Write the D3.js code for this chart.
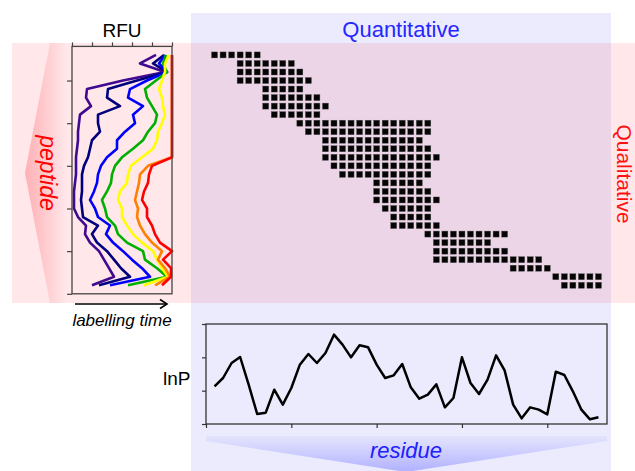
<!DOCTYPE html>
<html>
<head>
<meta charset="utf-8">
<script src="https://cdn.jsdelivr.net/npm/d3@7"></script>
<style>
  body { margin: 0; background: #fff; }
  text { font-family: "Liberation Sans", Arial, sans-serif; }
</style>
</head>
<body>
<script>
// ---- data ----
// lnP per residue (residue 1..46)
var lnP = [1.13, 1.38, 1.83, 2.01, 1.18, 0.30, 0.34, 1.03, 0.58, 1.08,
           1.78, 2.10, 1.83, 2.13, 2.68, 2.38, 2.00, 2.36, 2.30, 1.78,
           1.38, 1.46, 1.80, 1.10, 0.76, 0.88, 1.19, 0.50, 0.78, 2.00,
           1.23, 0.90, 1.33, 2.06, 1.61, 0.58, 0.17, 0.50, 0.43, 0.29,
           1.57, 1.47, 0.98, 0.43, 0.14, 0.20];

// peptides (top to bottom): first and last residue covered
var pepStart = [1, 4, 4, 4, 7, 7, 7, 8, 11, 12, 14, 14, 14, 15, 16, 20, 20, 20, 21, 22, 22, 26, 27, 27, 27, 36, 41, 42];
var pepEnd   = [6, 10, 11, 12, 11, 13, 14, 13, 26, 26, 25, 26, 27, 26, 26, 25, 26, 27, 26, 26, 27, 35, 33, 35, 39, 40, 46, 46];

// RFU per peptide at each labelling time (earliest -> latest)
var rfuT1 = [0.84, 0.68, 0.93, 0.51, 0.15, 0.14, 0.19, 0.08, 0.07, 0.06, 0.06, 0.05, 0.04, 0.04,
             0.04, 0.03, 0.02, 0.02, 0.02, 0.06, 0.14, 0.13, 0.18, 0.27, 0.32, 0.37, 0.42, 0.20];
var rfuT2 = [0.92, 0.81, 0.95, 0.65, 0.36, 0.35, 0.48, 0.26, 0.26, 0.28, 0.20, 0.18, 0.16, 0.12,
             0.10, 0.10, 0.10, 0.09, 0.10, 0.11, 0.26, 0.20, 0.25, 0.35, 0.42, 0.49, 0.58, 0.27];
var rfuT3 = [0.93, 0.87, 0.95, 0.75, 0.58, 0.56, 0.71, 0.61, 0.63, 0.53, 0.45, 0.45, 0.35, 0.29,
             0.26, 0.25, 0.22, 0.18, 0.23, 0.26, 0.38, 0.34, 0.41, 0.51, 0.60, 0.70, 0.78, 0.38];
var rfuT4 = [0.94, 0.91, 0.95, 0.84, 0.73, 0.75, 0.80, 0.85, 0.83, 0.76, 0.71, 0.61, 0.50, 0.43,
             0.40, 0.39, 0.35, 0.30, 0.33, 0.35, 0.43, 0.46, 0.55, 0.71, 0.73, 0.85, 0.95, 0.56];
var rfuT5 = [0.97, 0.93, 0.93, 0.90, 0.87, 0.90, 0.91, 0.93, 0.90, 0.86, 0.85, 0.81, 0.70, 0.59,
             0.56, 0.55, 0.48, 0.46, 0.50, 0.50, 0.55, 0.61, 0.70, 0.81, 0.85, 0.90, 0.96, 0.72];
var rfuT6 = [1, 1, 1, 1, 1, 1, 1, 1, 1, 1, 1, 1, 1, 0.76,
             0.68, 0.67, 0.65, 0.63, 0.66, 0.65, 0.68, 0.73, 0.80, 0.90, 0.86, 0.93, 0.98, 0.83];
var rfuT7 = [1, 1, 1, 1, 1, 1, 1, 1, 1, 1, 1, 1, 1, 0.80,
             0.77, 0.76, 0.72, 0.70, 0.75, 0.75, 0.80, 0.83, 0.88, 1.00, 0.91, 0.99, 0.99, 0.90];
var timeColors = ["#3f0a8f", "#00007f", "#0000ff", "#00b000", "#ffff00", "#ff8000", "#ff0000"];

var rfuTicks = [0, 0.2, 0.4, 0.6, 0.8, 1];
var pepTicks = [3, 8, 13, 18, 23, 28];
var lnPTicks = [0, 1, 2, 3];
var resTicks = [0, 10, 20, 30, 40];

var W = 635, H = 471;

var svg = d3.select("body").append("svg")
    .attr("width", W)
    .attr("height", H);

var defs = svg.append("defs");

// gradients for the two arrows
var gPep = defs.append("linearGradient").attr("id", "gPep")
    .attr("x1", "0%").attr("x2", "100%").attr("y1", "0%").attr("y2", "0%");
gPep.append("stop").attr("offset", "0%").attr("stop-color", "#ffb0b4");
gPep.append("stop").attr("offset", "100%").attr("stop-color", "#ffb0b4").attr("stop-opacity", 0);

var gRes = defs.append("linearGradient").attr("id", "gRes")
    .attr("x1", "0%").attr("x2", "0%").attr("y1", "0%").attr("y2", "100%");
gRes.append("stop").attr("offset", "0%").attr("stop-color", "#b8b8ff").attr("stop-opacity", 0.15);
gRes.append("stop").attr("offset", "100%").attr("stop-color", "#b0b0ff");

// ---- scales ----
var xRes = d3.scaleLinear().domain([0, 47]).range([206, 607]);
var yPep = d3.scaleLinear().domain([-1, 28]).range([46.4, 293.8]);
var xRfu = d3.scaleLinear().domain([0, 1]).range([72, 172]);
var yLnP = d3.scaleLinear().domain([0, 3]).range([424, 324]);

// ---- background bands ----
svg.append("rect")
    .attr("x", 191).attr("y", 13).attr("width", 420).attr("height", H - 13)
    .attr("fill", "#ebebfd");

svg.append("rect")
    .attr("x", 12).attr("y", 43).attr("width", W - 12).attr("height", 260)
    .attr("fill", "rgb(255,60,80)").attr("fill-opacity", 0.12);

// peptide arrow (points left)
svg.append("path")
    .attr("d", "M25,173 L50,43 L66,43 L66,303 L50,303 Z")
    .attr("fill", "url(#gPep)");

// residue arrow (points down)
svg.append("path")
    .attr("d", "M206,436 L607,436 L607,441 L406,472 L206,441 Z")
    .attr("fill", "url(#gRes)");

// ---- titles ----
svg.append("text")
    .attr("x", 401).attr("y", 37)
    .attr("text-anchor", "middle")
    .attr("font-size", 22)
    .attr("fill", "#2626ff")
    .text("Quantitative");

svg.append("text")
    .attr("transform", "translate(617,174) rotate(90)")
    .attr("text-anchor", "middle")
    .attr("font-size", 21)
    .attr("fill", "#ff1010")
    .text("Qualitative");

svg.append("text")
    .attr("transform", "translate(40,173) rotate(90)")
    .attr("text-anchor", "middle")
    .attr("font-size", 23)
    .attr("font-style", "italic")
    .attr("fill", "#ff0000")
    .text("peptide");

svg.append("text")
    .attr("x", 406).attr("y", 458)
    .attr("text-anchor", "middle")
    .attr("font-size", 22)
    .attr("font-style", "italic")
    .attr("fill", "#2020ff")
    .text("residue");

// ---- coverage grid ----
var cells = [];
pepStart.forEach(function(s, i) {
  d3.range(s, pepEnd[i] + 1).forEach(function(r) {
    cells.push({pep: i, res: r});
  });
});

svg.append("g").selectAll("rect")
    .data(cells)
  .enter().append("rect")
    .attr("x", function(d) { return xRes(d.res) - 3; })
    .attr("y", function(d) { return yPep(d.pep) - 3; })
    .attr("width", 6)
    .attr("height", 6)
    .attr("fill", "#050505")
    .attr("stroke", "#555")
    .attr("stroke-width", 0.4);

// ---- RFU panel ----
var rfu = svg.append("g");

rfu.append("g")
    .attr("transform", "translate(0," + yPep(-1) + ")")
    .call(d3.axisTop(xRfu).tickValues(rfuTicks).tickSize(4).tickFormat(""))
    .call(function(g) { g.select(".domain").remove(); });

rfu.append("g")
    .attr("transform", "translate(" + xRfu(0) + ",0)")
    .call(d3.axisLeft(yPep).tickValues(pepTicks).tickSize(5).tickFormat(""))
    .call(function(g) { g.select(".domain").remove(); });

rfu.selectAll(".tick line").attr("stroke", "#444").attr("stroke-width", 1.2);

var rfuSeries = [rfuT1, rfuT2, rfuT3, rfuT4, rfuT5, rfuT6, rfuT7];
var rfuLine = d3.line()
    .x(function(d) { return xRfu(d); })
    .y(function(d, i) { return yPep(i); });

rfu.selectAll("path.rfu")
    .data(rfuSeries)
  .enter().append("path")
    .attr("class", "rfu")
    .attr("d", rfuLine)
    .attr("fill", "none")
    .attr("stroke", function(d, i) { return timeColors[i]; })
    .attr("stroke-width", 2.6)
    .attr("stroke-linejoin", "round");

rfu.append("rect")
    .attr("x", xRfu(0)).attr("y", yPep(-1))
    .attr("width", xRfu(1) - xRfu(0)).attr("height", yPep(28) - yPep(-1))
    .attr("fill", "none").attr("stroke", "#444").attr("stroke-width", 1.3);

rfu.append("text")
    .attr("x", 122).attr("y", 37)
    .attr("text-anchor", "middle")
    .attr("font-size", 19)
    .text("RFU");

// labelling time arrow
rfu.append("line")
    .attr("x1", 75).attr("x2", 166).attr("y1", 304).attr("y2", 304)
    .attr("stroke", "#000").attr("stroke-width", 1.6);
rfu.append("path")
    .attr("d", "M160,299.5 L167,304 L160,308.5")
    .attr("fill", "none").attr("stroke", "#000").attr("stroke-width", 1.6);

rfu.append("text")
    .attr("x", 122).attr("y", 326)
    .attr("text-anchor", "middle")
    .attr("font-size", 17)
    .attr("font-style", "italic")
    .text("labelling time");

// ---- lnP panel ----
var lp = svg.append("g");

lp.append("g")
    .attr("transform", "translate(" + xRes(0) + ",0)")
    .call(d3.axisLeft(yLnP).tickValues(lnPTicks).tickSize(4).tickFormat(""))
    .call(function(g) { g.select(".domain").remove(); });

lp.append("g")
    .attr("transform", "translate(0," + yLnP(0) + ")")
    .call(d3.axisBottom(xRes).tickValues(resTicks).tickSize(4).tickFormat(""))
    .call(function(g) { g.select(".domain").remove(); });

lp.selectAll(".tick line").attr("stroke", "#333").attr("stroke-width", 1.2);

lp.append("rect")
    .attr("x", xRes(0)).attr("y", yLnP(3))
    .attr("width", xRes(47) - xRes(0)).attr("height", yLnP(0) - yLnP(3))
    .attr("fill", "none").attr("stroke", "#333").attr("stroke-width", 1.3);

var lnPLine = d3.line()
    .x(function(d, i) { return xRes(i + 1); })
    .y(function(d) { return yLnP(d); });

lp.append("path")
    .datum(lnP)
    .attr("d", lnPLine)
    .attr("fill", "none")
    .attr("stroke", "#000")
    .attr("stroke-width", 2.5)
    .attr("stroke-linejoin", "round");

lp.append("text")
    .attr("x", 163).attr("y", 385)
    .attr("font-size", 19)
    .text("lnP");
</script>
</body>
</html>
